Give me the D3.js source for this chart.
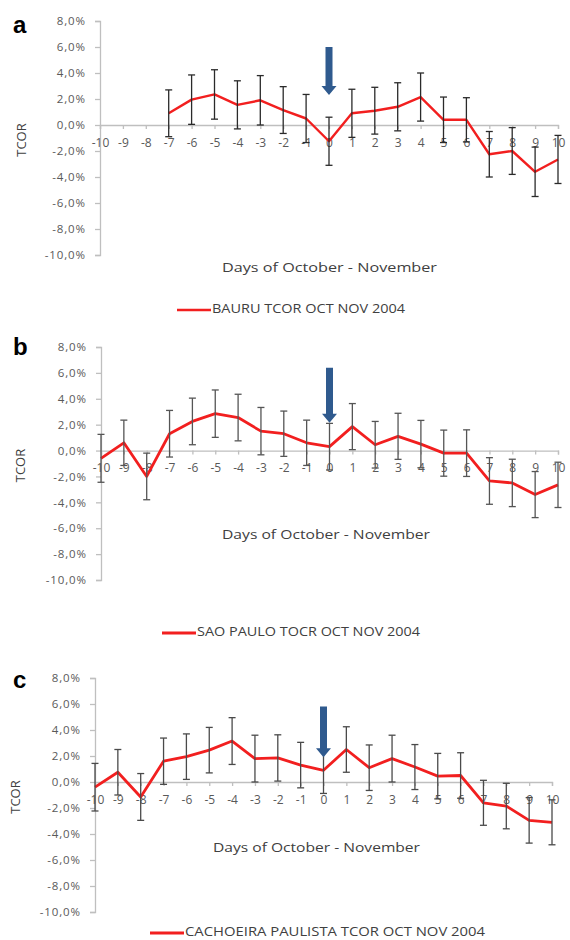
<!DOCTYPE html>
<html>
<head>
<meta charset="utf-8">
<script src="https://cdn.jsdelivr.net/npm/d3@7"></script>
<style>
  html, body { margin: 0; padding: 0; background: #fff; }
  svg { display: block; }
  text { font-family: "Open Sans", "DejaVu Sans", sans-serif; }
</style>
</head>
<body>
<svg id="chart" width="570" height="940"></svg>
<script>
// ---- data ----
const days = [-10, -9, -8, -7, -6, -5, -4, -3, -2, -1, 0, 1, 2, 3, 4, 5, 6, 7, 8, 9, 10];
const yTicks = [8, 6, 4, 2, 0, -2, -4, -6, -8, -10];
const panelLetters = ["a", "b", "c"];
const legendLabels = ["BAURU TCOR OCT NOV 2004", "SAO PAULO TOCR OCT NOV 2004", "CACHOEIRA PAULISTA TCOR OCT NOV 2004"];
const xTitle = ["Days of  October - November", "Days of October - November", "Days of October - November"];
const yTitle = "TCOR";

const bauruMean = [null, null, null, 0.9, 1.95, 2.35, 1.55, 1.9, 1.15, 0.5, -1.25, 0.9, 1.1, 1.4, 2.15, 0.4, 0.4, -2.25, -2.0, -3.6, -2.65];
const bauruErr  = [null, null, null, 1.8, 1.9, 1.9, 1.85, 1.9, 1.8, 1.85, 1.85, 1.85, 1.8, 1.85, 1.85, 1.75, 1.7, 1.75, 1.8, 1.9, 1.85];

const saoPauloMean = [-0.6, 0.6, -2.0, 1.3, 2.25, 2.85, 2.55, 1.5, 1.3, 0.6, 0.3, 1.85, 0.45, 1.1, 0.5, -0.2, -0.2, -2.35, -2.5, -3.4, -2.65];
const saoPauloErr  = [1.85, 1.75, 1.8, 1.8, 1.8, 1.83, 1.8, 1.83, 1.75, 1.75, 1.8, 1.78, 1.8, 1.78, 1.83, 1.78, 1.8, 1.8, 1.83, 1.78, 1.75];

const cachoeiraMean = [-0.4, 0.75, -1.15, 1.6, 1.95, 2.45, 3.15, 1.8, 1.85, 1.3, 0.9, 2.5, 1.1, 1.8, 1.15, 0.45, 0.5, -1.6, -1.85, -2.95, -3.1];
const cachoeiraErr  = [1.83, 1.75, 1.8, 1.78, 1.75, 1.75, 1.8, 1.8, 1.78, 1.75, 1.78, 1.75, 1.75, 1.8, 1.73, 1.75, 1.75, 1.73, 1.75, 1.75, 1.73];

const eventDay = 0;
const arrowTopValue = [6.0, 6.4, 5.8];
const arrowTipValue = [2.3, 2.15, 1.9];

// ---- layout ----
const layouts = [
  { x0: 100, x1: 558, yTop: 21,  yBot: 255, title: 268, titleX: 222, titleW: 215, legend: 310, legX: 177, legW: 193, tcorX: 23, letterY: 33, errColor: "#2a2a2a", lineW: 2.4 },
  { x0: 101, x1: 558, yTop: 347, yBot: 580, title: 535, titleX: 222, titleW: 208, legend: 633, legX: 162, legW: 223, tcorX: 22, letterY: 355, errColor: "#555", lineW: 2.8 },
  { x0: 95,  x1: 552, yTop: 678, yBot: 912, title: 848, titleX: 213, titleW: 207, legend: 933, legX: 150, legW: 300, tcorX: 17, letterY: 688, errColor: "#4a4a4a", lineW: 2.8 }
];
const series = [
  { mean: bauruMean, err: bauruErr },
  { mean: saoPauloMean, err: saoPauloErr },
  { mean: cachoeiraMean, err: cachoeiraErr }
];

const svg = d3.select("#chart");
svg.append("rect").attr("width", 570).attr("height", 940).attr("fill", "#fff");

const fmt = v => d3.format(".1f")(v).replace(".", ",").replace("−", "-") + "%";

layouts.forEach((L, i) => {
  const s = series[i];
  const g = svg.append("g");
  const x = d3.scaleLinear().domain([-10, 10]).range([L.x0, L.x1]);
  const y = d3.scaleLinear().domain([-10, 8]).range([L.yBot, L.yTop]);

  // y axis
  const ya = g.append("g").attr("transform", `translate(${L.x0},0)`)
    .call(d3.axisLeft(y).tickValues(yTicks).tickFormat(fmt).tickSize(5).tickPadding(9));
  ya.select(".domain").attr("stroke", "#bfbfbf").attr("stroke-width", 1.3);
  ya.selectAll(".tick line").attr("stroke", "#bfbfbf").attr("stroke-width", 1.3);
  ya.selectAll(".tick text").attr("fill", "#595959").style("font-size", "11.5px").style("letter-spacing", "0.9px");

  // x axis at zero
  const xa = g.append("g").attr("transform", `translate(0,${y(0)})`)
    .call(d3.axisBottom(x).tickValues(days).tickFormat(d => String(d)).tickSize(4).tickPadding(9));
  xa.select(".domain").attr("stroke", "#bfbfbf").attr("stroke-width", 1.3);
  xa.selectAll(".tick line").attr("stroke", "#bfbfbf").attr("stroke-width", 1.3);
  xa.selectAll(".tick text").attr("fill", "#595959").style("font-size", "12px");

  // titles
  const cy = (L.yTop + L.yBot) / 2 + 2;
  g.append("text").attr("x", L.tcorX).attr("y", cy)
    .attr("transform", `rotate(-90,${L.tcorX},${cy})`)
    .attr("text-anchor", "middle").attr("dominant-baseline", "middle")
    .attr("fill", "#404040").style("font-size", "13px").text(yTitle);
  g.append("text").attr("x", L.titleX).attr("y", L.title)
    .attr("dominant-baseline", "middle")
    .attr("textLength", L.titleW).attr("lengthAdjust", "spacingAndGlyphs")
    .attr("fill", "#404040").style("font-size", "13.5px").text(xTitle[i]);
  g.append("text").attr("x", 13).attr("y", L.letterY)
    .attr("fill", "#000").style("font-family", "'Liberation Sans', Arial, sans-serif")
    .style("font-weight", "bold").style("font-size", "24px").text(panelLetters[i]);

  // data
  const pts = days.map((d, k) => ({ d, m: s.mean[k], e: s.err[k] })).filter(p => p.m !== null);

  // line
  g.append("path").datum(pts)
    .attr("fill", "none").attr("stroke", "#f21f1f").attr("stroke-width", L.lineW)
    .attr("stroke-linejoin", "round")
    .attr("d", d3.line().x(p => x(p.d)).y(p => y(p.m)));

  // error bars
  const eb = g.append("g").attr("stroke", L.errColor).attr("stroke-width", 1.3).attr("fill", "none");
  eb.selectAll("line.stem").data(pts).join("line").attr("class", "stem")
    .attr("x1", p => x(p.d)).attr("x2", p => x(p.d))
    .attr("y1", p => y(p.m + p.e)).attr("y2", p => y(p.m - p.e));
  eb.selectAll("line.capT").data(pts).join("line").attr("class", "capT")
    .attr("x1", p => x(p.d) - 3.5).attr("x2", p => x(p.d) + 3.5)
    .attr("y1", p => y(p.m + p.e)).attr("y2", p => y(p.m + p.e));
  eb.selectAll("line.capB").data(pts).join("line").attr("class", "capB")
    .attr("x1", p => x(p.d) - 3.5).attr("x2", p => x(p.d) + 3.5)
    .attr("y1", p => y(p.m - p.e)).attr("y2", p => y(p.m - p.e));

  // arrow
  const ax = x(eventDay), aTop = y(arrowTopValue[i]), aTip = y(arrowTipValue[i]);
  const headH = 9, shaftW = 3.5, headW = 7.5;
  g.append("path")
    .attr("fill", "#2f5a8e")
    .attr("d", `M${ax - shaftW},${aTop} L${ax + shaftW},${aTop} L${ax + shaftW},${aTip - headH} L${ax + headW},${aTip - headH} L${ax},${aTip} L${ax - headW},${aTip - headH} L${ax - shaftW},${aTip - headH} Z`);

  // legend
  g.append("line").attr("x1", L.legX).attr("x2", L.legX + 34)
    .attr("y1", L.legend).attr("y2", L.legend)
    .attr("stroke", "#f21f1f").attr("stroke-width", L.lineW);
  g.append("text").attr("x", L.legX + 35).attr("y", L.legend)
    .attr("dominant-baseline", "middle").attr("fill", "#404040")
    .attr("textLength", L.legW).attr("lengthAdjust", "spacingAndGlyphs")
    .style("font-size", "12px").text(legendLabels[i]);
});
</script>
</body>
</html>
